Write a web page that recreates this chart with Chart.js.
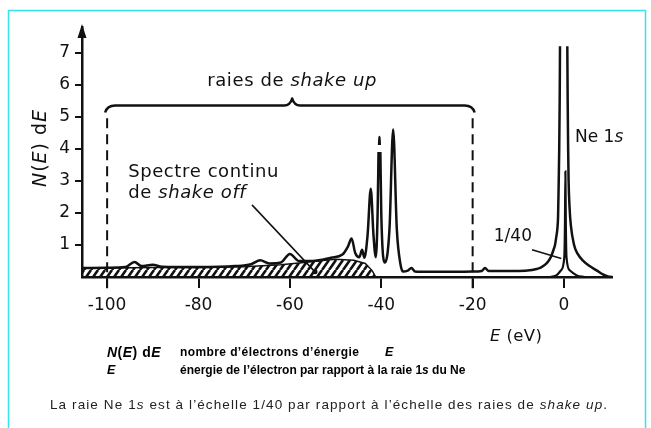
<!DOCTYPE html>
<html>
<head>
<meta charset="utf-8">
<script src="https://cdn.jsdelivr.net/npm/chart.js@4.4.0/dist/chart.umd.min.js"></script>
<style>
  html, body { margin: 0; padding: 0; background: #fff; }
  canvas { display: block; }
</style>
</head>
<body>
<canvas id="spectre" width="651" height="428"></canvas>
<script>
/* spectre principal : energie (eV) / N(E)dE, null = trait interrompu (sommets) */
var specE = [-105.5, -100, -96, -94, -92.5, -90, -88, -80, -72, -68.5, -66.5, -64.5, -62, -60, -58, -55, -51,
  -48.5, -47.3, -46.5, -45.7, -44.8, -44.2, -43.7, -43.0, -42.3, -41.7, -41.2, -40.8, -40.6, -40.52, -40.47,
  -40.4, -40.33, -40.28, -40.2, -40.0, -39.2,
  -38.2, -37.4, -36.6, -35.8, -35.2, -34.2, -33.4, -32.6, -30, -20, -18, -17.3, -16.5, -10, -7, -6, -5, -4,
  -3.4, -2.8, -2.3, -1.97, -1.7, -1.46, -1.3, -1.16, -1.05, -0.95, -0.88, 0,
  0.72, 0.8, 0.9, 1.0, 1.2, 1.5, 2.2, 3, 4.2, 5.5, 7.2, 8.5, 9.6, 10.5];
var specN = [0.28, 0.29, 0.31, 0.47, 0.34, 0.38, 0.32, 0.31, 0.34, 0.4, 0.52, 0.42, 0.45, 0.72, 0.5, 0.5, 0.6,
  0.7, 0.95, 1.2, 0.75, 0.62, 0.85, 0.6, 1.3, 2.75, 1.3, 0.62, 2.0, 3.9, null, 4.12,
  4.37, 4.12, null, 3.9, 2.0, 0.45,
  1.5, 4.6, 1.5, 0.4, 0.17, 0.2, 0.28, 0.17, 0.16, 0.17, 0.19, 0.28, 0.19, 0.19, 0.22, 0.25, 0.3, 0.4,
  0.5, 0.65, 0.85, 1.0, 1.25, 1.5, 1.9, 3.0, 4.0, 5.5, 7.2, null,
  7.2, 5.5, 4.0, 3.0, 2.2, 1.6, 1.0, 0.72, 0.5, 0.35, 0.2, 0.08, 0.02, 0];

/* spectre continu de shake off (zone hachuree) */
var shakeOffE = [-105.5, -100, -90, -80, -70, -62, -58, -54, -50, -46, -43.5, -42, -41.2];
var shakeOffN = [0.27, 0.28, 0.3, 0.3, 0.32, 0.38, 0.44, 0.5, 0.55, 0.52, 0.42, 0.2, 0];

/* raie Ne 1s a l'echelle 1/40 */
var refE = [-3, -1.6, -0.7, 0.05, 0.2, 0.3, 0.4, 0.55, 1.3, 2.8, 4.5];
var refN = [0, 0.06, 0.2, 0.6, 1.6, 3.3, 1.6, 0.6, 0.2, 0.05, 0];

var xTicks = [-100, -80, -60, -40, -20, 0];
var yTicks = [1, 2, 3, 4, 5, 6, 7];

/* limites des raies de shake up (traits tirets) */
var shakeUpE = [-100, -20];
var dashN = [4.95, -0.45];

/* traits de rappel des legendes */
var offLeaderE = [-68.3, -54.5];
var offLeaderN = [2.25, 0.16];
var ratioLeaderE = [-7, -0.6];
var ratioLeaderN = [0.85, 0.58];

var INK = '#111';
var FONT = '"DejaVu Sans", "Liberation Sans", sans-serif';
var TXT = '"Liberation Sans", Arial, sans-serif';

function pts(xs, ys) {
    var out = [];
    for (var i = 0; i < xs.length; i++) {
        out.push({ x: xs[i], y: ys[i] });
    }
    return out;
}

function hatchPattern(ctx) {
    var c = document.createElement('canvas');
    c.width = 7;
    c.height = 10;
    var g = c.getContext('2d');
    g.strokeStyle = INK;
    g.lineWidth = 2.6;
    g.beginPath();
    g.moveTo(0, 10); g.lineTo(7, 0);
    g.moveTo(-7, 10); g.lineTo(0, 0);
    g.moveTo(7, 10); g.lineTo(14, 0);
    g.stroke();
    return ctx.createPattern(c, 'repeat');
}

/* texte avec parties en italique : parts = [[texte, italique], ...] */
function rich(ctx, parts, x, y, size, align, family, weight, spacing) {
    var w = 0;
    var fam = family || FONT;
    var wt = weight || 'normal';
    ctx.letterSpacing = (spacing || 0) + 'px';
    parts.forEach(function(p) {
        ctx.font = (p[1] ? 'italic ' : '') + wt + ' ' + size + 'px ' + fam;
        w += ctx.measureText(p[0]).width;
    });
    var sx = align === 'center' ? x - w / 2 : (align === 'right' ? x - w : x);
    ctx.textAlign = 'left';
    ctx.textBaseline = 'middle';
    parts.forEach(function(p) {
        ctx.font = (p[1] ? 'italic ' : '') + wt + ' ' + size + 'px ' + fam;
        ctx.fillText(p[0], sx, y);
        sx += ctx.measureText(p[0]).width;
    });
    ctx.letterSpacing = '0px';
}

var decor = {
    id: 'decor',
    beforeDraw: function(chart) {
        var ctx = chart.ctx;
        ctx.save();
        ctx.fillStyle = '#fff';
        ctx.fillRect(0, 0, chart.width, chart.height);
        ctx.strokeStyle = '#35e4ef';
        ctx.lineWidth = 1.5;
        ctx.beginPath();
        ctx.moveTo(8.5, 430);
        ctx.lineTo(8.5, 10.5);
        ctx.lineTo(645.5, 10.5);
        ctx.lineTo(645.5, 430);
        ctx.stroke();
        ctx.restore();
    },
    afterDraw: function(chart) {
        var ctx = chart.ctx;
        var xs = chart.scales.x, ys = chart.scales.y;
        var a = chart.chartArea;
        ctx.save();
        ctx.fillStyle = INK;
        ctx.strokeStyle = INK;

        // fleche de l'axe N(E)dE
        ctx.beginPath();
        ctx.moveTo(a.left, a.top - 3);
        ctx.lineTo(a.left - 4.5, a.top + 11);
        ctx.lineTo(a.left + 4.5, a.top + 11);
        ctx.closePath();
        ctx.fill();

        // accolade des raies de shake up
        var xl = xs.getPixelForValue(shakeUpE[0]);
        var xr = xs.getPixelForValue(shakeUpE[1]);
        var xc = xs.getPixelForValue(-59.5);
        var yb = ys.getPixelForValue(5.35);
        ctx.lineWidth = 2.5;
        ctx.lineJoin = 'round';
        ctx.beginPath();
        ctx.moveTo(xl - 2, yb + 7);
        ctx.quadraticCurveTo(xl, yb, xl + 8, yb);
        ctx.lineTo(xc - 8, yb);
        ctx.quadraticCurveTo(xc - 2, yb, xc, yb - 7);
        ctx.quadraticCurveTo(xc + 2, yb, xc + 8, yb);
        ctx.lineTo(xr - 8, yb);
        ctx.quadraticCurveTo(xr, yb, xr + 2, yb + 7);
        ctx.stroke();

        rich(ctx, [['raies de ', false], ['shake up', true]], xc, ys.getPixelForValue(6.1), 18, 'center', FONT, 'normal', 0.6);
        rich(ctx, [['Spectre continu', false]], xs.getPixelForValue(-95.4), ys.getPixelForValue(3.28), 18, 'left', FONT, 'normal', 0.6);
        rich(ctx, [['de ', false], ['shake off', true]], xs.getPixelForValue(-95.4), ys.getPixelForValue(2.6), 18, 'left', FONT, 'normal', 0.6);
        rich(ctx, [['Ne 1', false], ['s', true]], xs.getPixelForValue(2.4), ys.getPixelForValue(4.34), 17, 'left');
        rich(ctx, [['1/40', false]], xs.getPixelForValue(-11.2), ys.getPixelForValue(1.25), 17, 'center');

        // point au bout du trait "shake off"
        ctx.beginPath();
        ctx.arc(xs.getPixelForValue(offLeaderE[1]), ys.getPixelForValue(offLeaderN[1]), 2.5, 0, Math.PI * 2);
        ctx.fill();

        // titres des axes
        rich(ctx, [['E', true], [' (eV)', false]], 490, 337, 16.5, 'left', FONT, 'normal', 0.4);
        ctx.save();
        ctx.translate(41, 148);
        ctx.rotate(-Math.PI / 2);
        rich(ctx, [['N', true], ['(', false], ['E', true], [') d', false], ['E', true]], 0, 0, 19, 'center', FONT, 'normal', 1);
        ctx.restore();

        // legende sous la figure
        ctx.fillStyle = '#000';
        rich(ctx, [['N', true], ['(', false], ['E', true], [') d', false], ['E', true]], 107, 353, 14, 'left', TXT, 'bold', 0.5);
        rich(ctx, [['nombre d\u2019\u00e9lectrons d\u2019\u00e9nergie', false]], 180, 353, 12, 'left', TXT, 'bold', 0.4);
        rich(ctx, [['E', true]], 385, 353, 12.5, 'left', TXT, 'bold');
        rich(ctx, [['E', true]], 107, 371, 12.5, 'left', TXT, 'bold');
        rich(ctx, [['\u00e9nergie de l\u2019\u00e9lectron par rapport \u00e0 la raie 1', false], ['s', true], [' du Ne', false]], 180, 371, 12, 'left', TXT, 'bold');
        ctx.fillStyle = '#222';
        rich(ctx, [['La raie Ne 1', false], ['s', true], [' est \u00e0 l\u2019\u00e9chelle 1/40 par rapport \u00e0 l\u2019\u00e9chelle des raies de ', false], ['shake up', true], ['.', false]], 50, 405, 13.5, 'left', TXT, 'normal', 1.1);
        ctx.restore();
    }
};

var ctx = document.getElementById('spectre').getContext('2d');

var lineBase = {
    borderColor: INK,
    pointRadius: 0,
    fill: false,
    spanGaps: false
};

var chart = new Chart(ctx, {
    type: 'line',
    data: {
        datasets: [
            Object.assign({}, lineBase, {
                label: 'spectre',
                data: pts(specE, specN),
                borderWidth: 2.5,
                cubicInterpolationMode: 'monotone'
            }),
            Object.assign({}, lineBase, {
                label: '1/40',
                data: pts(refE, refN),
                borderWidth: 2.2,
                cubicInterpolationMode: 'monotone'
            }),
            Object.assign({}, lineBase, {
                label: 'limite gauche',
                data: pts([shakeUpE[0], shakeUpE[0]], dashN),
                borderWidth: 2,
                borderDash: [10, 6],
                clip: false
            }),
            Object.assign({}, lineBase, {
                label: 'limite droite',
                data: pts([shakeUpE[1], shakeUpE[1]], dashN),
                borderWidth: 2,
                borderDash: [10, 6],
                clip: false
            }),
            Object.assign({}, lineBase, {
                label: 'rappel shake off',
                data: pts(offLeaderE, offLeaderN),
                borderWidth: 1.5
            }),
            Object.assign({}, lineBase, {
                label: 'rappel 1/40',
                data: pts(ratioLeaderE, ratioLeaderN),
                borderWidth: 1.5
            }),
            Object.assign({}, lineBase, {
                label: 'shake off',
                data: pts(shakeOffE, shakeOffN),
                borderWidth: 1.5,
                fill: 'origin',
                backgroundColor: hatchPattern(ctx)
            })
        ]
    },
    options: {
        responsive: false,
        animation: false,
        devicePixelRatio: 1,
        layout: { padding: { left: 0, top: 27, right: 39, bottom: 0 } },
        plugins: {
            legend: { display: false },
            tooltip: { enabled: false }
        },
        scales: {
            x: {
                type: 'linear',
                min: -105.5,
                max: 10.5,
                afterBuildTicks: function(axis) {
                    axis.ticks = xTicks.map(function(v) { return { value: v }; });
                },
                afterFit: function(axis) { axis.height = 151; },
                grid: { drawOnChartArea: false, drawTicks: true, tickLength: 11, color: INK, lineWidth: 2 },
                border: { display: true, color: INK, width: 2.5 },
                ticks: {
                    color: INK,
                    padding: 7,
                    maxRotation: 0,
                    autoSkip: false,
                    font: { family: FONT, size: 17 },
                    callback: function(v) { return String(v); }
                }
            },
            y: {
                min: 0,
                max: 7.8,
                afterBuildTicks: function(axis) {
                    axis.ticks = yTicks.map(function(v) { return { value: v }; });
                },
                afterFit: function(axis) { axis.width = 82; },
                grid: { drawOnChartArea: false, drawTicks: true, tickLength: 7, color: INK, lineWidth: 2 },
                border: { display: true, color: INK, width: 2.5 },
                ticks: {
                    color: INK,
                    padding: 5,
                    font: { family: FONT, size: 17 },
                    callback: function(v) { return String(v); }
                }
            }
        }
    },
    plugins: [decor]
});
</script>
</body>
</html>
